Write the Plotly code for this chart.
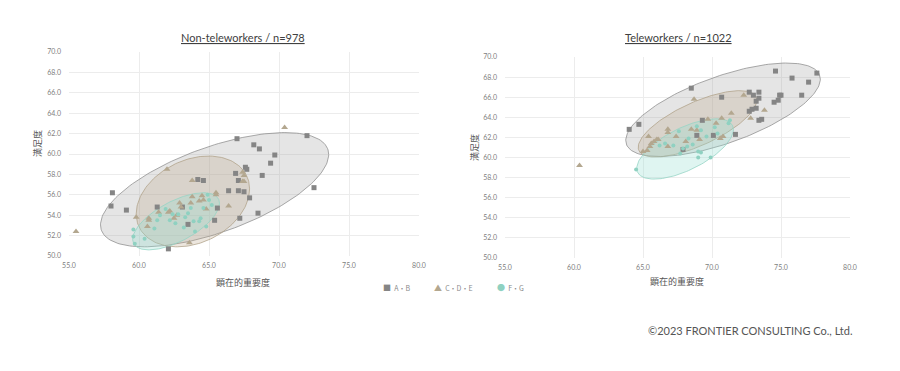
import numpy as np
import plotly.graph_objects as go

# ---------------- data ----------------
series_names = ["A・B", "C・D・E", "F・G"]

# Non-teleworkers
nt_ab_x = [58.0, 58.1, 59.1, 61.3, 62.1, 63.1, 63.5, 64.2, 64.6, 65.4, 65.6, 66.4, 66.9, 67.0, 67.1, 67.1,
           67.2, 67.5, 67.6, 67.7, 67.9, 68.2, 68.5, 68.6, 68.8, 69.4, 69.7, 72.0, 72.5]
nt_ab_y = [54.9, 56.2, 54.5, 54.8, 50.7, 54.8, 53.1, 57.5, 57.4, 53.5, 54.7, 56.4, 58.1, 61.5, 57.4, 56.4,
           53.7, 56.3, 58.7, 58.5, 55.7, 60.9, 54.2, 60.5, 57.9, 59.1, 59.9, 61.8, 56.7]
nt_cde_x = [55.5, 59.8, 60.7, 60.7, 60.6, 61.4, 62.0, 62.1, 62.2, 62.5, 62.7, 62.9, 63.0, 63.7, 63.6, 63.8,
            63.8, 64.3, 64.5, 64.6, 64.8, 65.5, 65.5, 66.4, 67.4, 67.5, 67.5, 67.4, 70.4]
nt_cde_y = [52.4, 53.8, 53.7, 53.5, 52.9, 54.3, 58.5, 54.3, 54.4, 53.7, 54.0, 55.2, 54.8, 55.2, 51.3, 57.4,
            55.8, 55.4, 55.9, 55.5, 54.6, 56.2, 56.0, 54.9, 58.2, 57.3, 57.9, 57.3, 62.6]
nt_fg_x = [59.6, 59.6, 59.7, 60.4, 61.1, 61.3, 61.5, 62.2, 62.4, 62.8, 63.2, 63.3, 63.5, 63.7, 63.9, 64.0,
           64.3, 64.4, 64.6, 64.8, 65.0, 64.9, 65.2, 61.9, 62.6]
nt_fg_y = [52.6, 51.9, 51.2, 51.7, 52.7, 53.5, 54.0, 53.5, 54.1, 54.1, 52.8, 53.8, 54.2, 54.7, 53.4, 52.4,
           53.4, 53.7, 54.7, 52.9, 55.5, 56.0, 55.0, 54.6, 53.2]

# Teleworkers
tw_ab_x = [64.0, 64.7, 68.5, 70.7, 70.1, 69.3, 67.9, 71.7, 72.7, 73.0, 73.4, 73.2, 73.4, 72.7, 72.9, 73.2,
           73.4, 73.6, 74.6, 75.8, 77.6, 77.0, 74.5, 74.8, 74.9, 75.0, 76.5, 68.9]
tw_ab_y = [62.8, 63.3, 66.9, 66.0, 62.2, 63.7, 60.8, 62.3, 66.5, 66.2, 66.5, 65.6, 65.9, 64.6, 64.8, 64.9,
           63.7, 63.8, 68.6, 67.9, 68.4, 67.5, 65.5, 65.7, 66.2, 66.2, 66.2, 62.2]
tw_cde_x = [60.4, 65.0, 65.4, 65.6, 65.8, 66.0, 66.1, 65.5, 65.3, 66.8, 66.8, 66.8, 67.4, 68.1, 68.5, 68.7,
            68.9, 69.1, 69.7, 70.3, 70.7, 70.8, 70.6, 71.4, 72.3, 72.8, 73.8]
tw_cde_y = [59.2, 60.6, 62.1, 61.4, 61.6, 61.8, 61.8, 61.1, 60.7, 62.8, 62.5, 61.1, 62.1, 61.6, 62.8, 65.8,
            62.7, 61.8, 63.8, 63.4, 63.9, 62.1, 61.9, 64.4, 66.2, 63.9, 64.7]
tw_fg_x = [64.5, 66.2, 66.6, 67.2, 67.7, 67.9, 68.2, 68.3, 68.6, 68.9, 69.0, 69.0, 69.2, 69.2, 69.6, 69.9,
           70.2, 70.4, 71.2, 71.3, 67.6]
tw_fg_y = [58.8, 61.2, 61.4, 61.2, 60.4, 60.9, 61.1, 61.9, 61.3, 63.1, 60.6, 60.0, 60.5, 62.7, 62.1, 60.0,
           63.0, 62.4, 63.4, 63.7, 62.6]

# ellipse params: center x, center y, half-width (x units), half-height (y units), skew phase (deg)
nt_ell = [(65.4, 56.5, 8.15, 5.6, 52), (63.85, 55.35, 4.05, 4.45, 74), (62.65, 53.4, 3.1, 2.8, 51)]
tw_ell = [(70.8, 64.75, 7.05, 4.65, 49), (68.95, 63.35, 4.3, 3.3, 45), (68.05, 60.85, 3.5, 3.0, 50)]

x_ticks = [55.0, 60.0, 65.0, 70.0, 75.0, 80.0]
y_ticks = [50.0, 52.0, 54.0, 56.0, 58.0, 60.0, 62.0, 64.0, 66.0, 68.0, 70.0]

# ---------------- styles ----------------
mk_colors = ["#858585", "#b3a78f", "#8fd1c1"]
mk_symbols = ["square", "triangle-up", "circle"]
mk_glyphs = ["■", "▲", "●"]
mk_sizes = [5, 6, 4]
ell_fill = ["rgba(150,150,150,0.25)", "rgba(185,165,135,0.28)", "rgba(150,222,210,0.30)"]
ell_line = ["rgba(140,140,140,0.75)", "rgba(175,160,135,0.75)", "rgba(150,212,198,0.8)"]

# page body has an 8px default margin -> figure is offset by 8px
OFF = 8
W, H = 900 - 2 * OFF, 371 - 2 * OFF
fig = go.Figure()


def ellipse(cx, cy, a, b, ph):
    t = np.linspace(0, 2 * np.pi, 181)
    p = np.deg2rad(ph)
    return cx + a * np.cos(t), cy + b * np.cos(t - p)


for ax_suffix, ells, pts in [
    ("", nt_ell, [(nt_ab_x, nt_ab_y), (nt_cde_x, nt_cde_y), (nt_fg_x, nt_fg_y)]),
    ("2", tw_ell, [(tw_ab_x, tw_ab_y), (tw_cde_x, tw_cde_y), (tw_fg_x, tw_fg_y)]),
]:
    for i, e in enumerate(ells):
        ex, ey = ellipse(*e)
        fig.add_trace(go.Scatter(x=ex, y=ey, mode="lines", fill="toself", fillcolor=ell_fill[i],
                                 line=dict(color=ell_line[i], width=1), hoverinfo="skip",
                                 showlegend=False, xaxis="x" + ax_suffix, yaxis="y" + ax_suffix))
    for i, (px, py) in enumerate(pts):
        fig.add_trace(go.Scatter(x=px, y=py, mode="markers", name=series_names[i],
                                 marker=dict(symbol=mk_symbols[i], color=mk_colors[i], size=mk_sizes[i],
                                             line=dict(width=0)),
                                 showlegend=False, xaxis="x" + ax_suffix, yaxis="y" + ax_suffix))

axis_common = dict(showgrid=True, gridcolor="#ececec", gridwidth=1, zeroline=False, showline=False,
                   tickfont=dict(size=7, color="#808080", family="Lato"), ticks="", automargin=False)
tick_txt_x = [f"{v:.1f}" for v in x_ticks]
tick_txt_y = [f"{v:.1f}" for v in y_ticks]


def px_x(p):
    return (p - OFF) / W


def px_y(p):
    return 1 - (p - OFF) / H


fig.update_layout(
    width=W, height=H,
    margin=dict(l=0, r=0, t=0, b=0),
    paper_bgcolor="white", plot_bgcolor="white",
    showlegend=False,
    xaxis=dict(domain=[px_x(69), px_x(419)], range=[55, 80], tickvals=x_ticks, ticktext=tick_txt_x,
               anchor="y", ticklabelstandoff=4, **axis_common),
    yaxis=dict(domain=[px_y(256), px_y(52)], range=[50, 70], tickvals=y_ticks, ticktext=tick_txt_y,
               anchor="x", ticklabelstandoff=7, **axis_common),
    xaxis2=dict(domain=[px_x(505), px_x(850)], range=[55, 80], tickvals=x_ticks, ticktext=tick_txt_x,
                anchor="y2", ticklabelstandoff=4, **axis_common),
    yaxis2=dict(domain=[px_y(258), px_y(57)], range=[50, 70], tickvals=y_ticks, ticktext=tick_txt_y,
                anchor="x2", ticklabelstandoff=7, **axis_common),
    font=dict(family="Lato"),
)

title_font = dict(size=11, color="#404040", family="Lato")
lab_font = dict(size=9, color="#555555", family="Noto Sans CJK JP")


def ann(text, x, y, font, xanchor="center", **kw):
    fig.add_annotation(text=text, x=px_x(x), y=px_y(y), xref="paper", yref="paper",
                       xanchor=xanchor, yanchor="middle", showarrow=False, font=font, **kw)


ann("<u>Non-teleworkers / n=978</u>", 243, 37, title_font)
ann("<u>Teleworkers / n=1022</u>", 678, 37, title_font)
ann("顕在的重要度", 243, 282, lab_font)
ann("顕在的重要度", 677, 281, lab_font)
ann("満足度", 38, 143, lab_font, textangle=-90)
ann("満足度", 475, 148, lab_font, textangle=-90)
ann("©2023 FRONTIER CONSULTING Co., Ltd.", 855, 330,
    dict(size=11, color="#555555", family="Lato"), xanchor="right")

# legend (manual, one entry per series)
leg_x = [381, 432, 495]
for i, name in enumerate(series_names):
    ann(f"<span style='color:{mk_colors[i]}; font-size:8px'>{mk_glyphs[i]}</span>"
        f"<span style='color:#8a8a8a'>  {name}</span>",
        leg_x[i], 287, dict(size=7, color="#8a8a8a", family="Noto Sans CJK JP"), xanchor="left")

fig.write_html("out.html")
